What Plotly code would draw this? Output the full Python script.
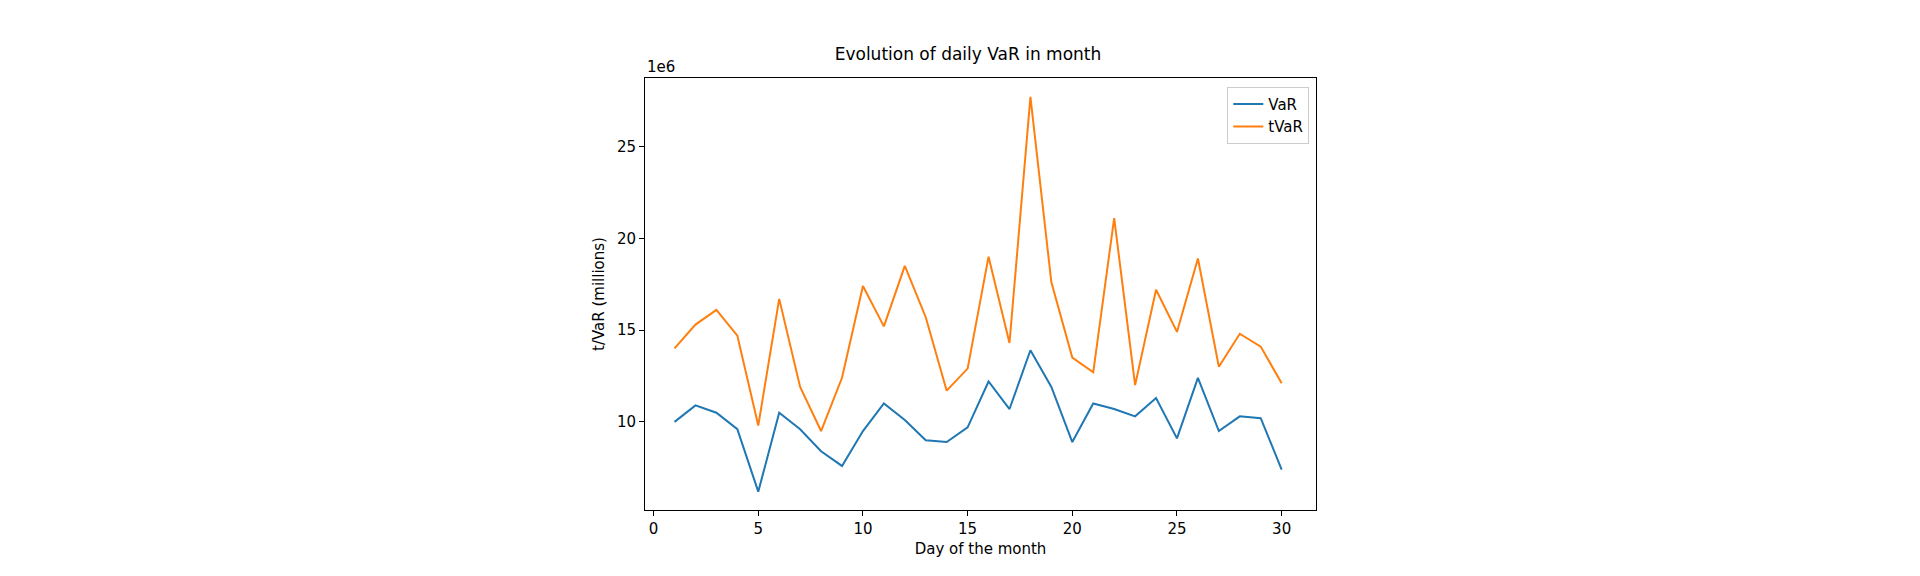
import plotly.graph_objs as go

days = list(range(1, 31))
var = [10.0, 10.9, 10.5, 9.6, 6.2, 10.5, 9.6, 8.4, 7.6, 9.5, 11.0, 10.1, 9.0, 8.9, 9.7,
       12.2, 10.7, 13.9, 11.9, 8.9, 11.0, 10.7, 10.3, 11.3, 9.1, 12.4, 9.5, 10.3, 10.2, 7.4]
tvar = [14.0, 15.3, 16.1, 14.7, 9.8, 16.7, 11.9, 9.5, 12.4, 17.4, 15.2, 18.5, 15.7, 11.7, 12.9,
        19.0, 14.3, 27.7, 17.6, 13.5, 12.7, 21.1, 12.0, 17.2, 14.9, 18.9, 13.0, 14.8, 14.1, 12.1]

fig = go.Figure()
fig.add_trace(go.Scatter(x=days, y=var, mode='lines', name='VaR',
                         line=dict(color='#1f77b4', width=2)))
fig.add_trace(go.Scatter(x=days, y=tvar, mode='lines', name='tVaR',
                         line=dict(color='#ff7f0e', width=2)))

axis = dict(showgrid=False, zeroline=False, showline=True, mirror=True,
            linecolor='black', linewidth=1, ticks='outside', ticklen=5,
            tickcolor='black', tickfont=dict(size=15, color='black'))
fig.update_layout(
    width=1920, height=576, plot_bgcolor='white', paper_bgcolor='white',
    font=dict(family='DejaVu Sans', color='black'),
    margin=dict(l=637, r=612, t=70, b=74),
    title=dict(text='Evolution of daily VaR in month', x=0.5, y=0.93,
               font=dict(size=17)),
    xaxis=dict(axis, range=[-0.41, 31.64], tickvals=[0, 5, 10, 15, 20, 25, 30],
               title=dict(text='Day of the month', font=dict(size=15), standoff=6)),
    yaxis=dict(axis, range=[5.2, 28.73], tickvals=[10, 15, 20, 25],
               title=dict(text='t/VaR (millions)', font=dict(size=15), standoff=8)),
    legend=dict(x=0.99, y=0.98, xanchor='right', yanchor='top',
                bordercolor='#cccccc', borderwidth=1, font=dict(size=15)),
    showlegend=True,
)
fig.add_annotation(text='1e6', xref='paper', yref='paper', x=0, y=1.0,
                   xanchor='left', yanchor='bottom', showarrow=False,
                   font=dict(size=15))

fig.write_html("out.html")
